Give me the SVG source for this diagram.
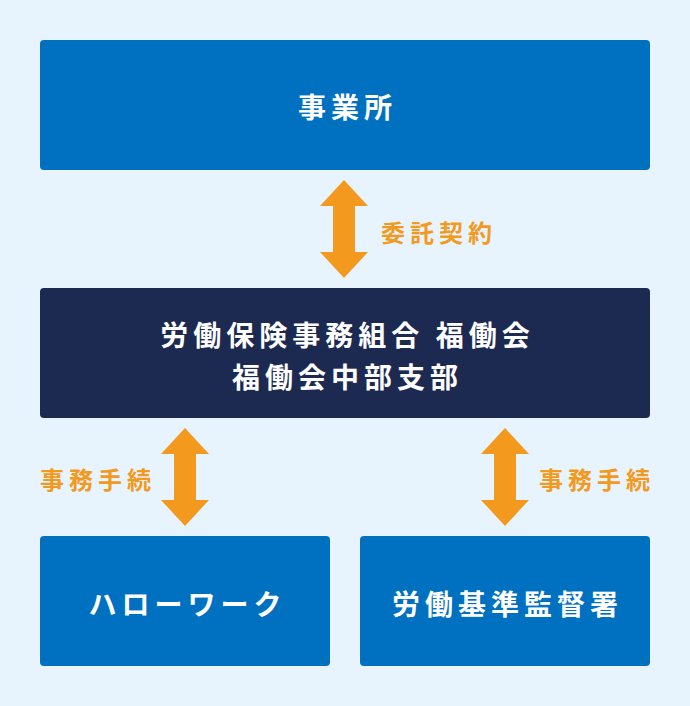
<svg xmlns="http://www.w3.org/2000/svg" width="690" height="706" viewBox="0 0 690 706">
<style>
.t{font-family:"Noto Sans CJK JP","Noto Sans CJK SC",sans-serif;font-weight:700;fill:#fff;font-size:28px;letter-spacing:5px;text-anchor:middle;dominant-baseline:central}
.l{font-family:"Noto Sans CJK JP","Noto Sans CJK SC",sans-serif;font-weight:700;fill:#f39a1e;font-size:24px;letter-spacing:5px;dominant-baseline:central}
.a{fill:#f39a1e}
</style>
<defs>
<path id="arr" d="M0,0 L24,26 L11,26 L11,72 L24,72 L0,98 L-24,72 L-11,72 L-11,26 L-24,26 Z"/>
</defs>
<rect width="690" height="706" fill="#e8f4fd"/>
<g id="jigyosho"><rect x="40" y="40" width="610" height="130" rx="4" fill="#0070c0"/><text class="t" x="347.5" y="106">事業所</text></g>
<g id="kumiai"><rect x="40" y="288" width="610" height="130" rx="4" fill="#1c2951"/><text class="t" x="347.5" y="334">労働保険事務組合 福働会</text><text class="t" x="347.5" y="376">福働会中部支部</text></g>
<g id="hellowork"><rect x="40" y="536" width="290" height="130" rx="4" fill="#0070c0"/><text class="t" x="187.5" y="603">ハローワーク</text></g>
<g id="kantoku"><rect x="360" y="536" width="290" height="130" rx="4" fill="#0070c0"/><text class="t" x="507.5" y="603">労働基準監督署</text></g>
<g id="connectors">
<use href="#arr" x="344" y="180" class="a"/>
<text class="l" x="381" y="231">委託契約</text>
<use href="#arr" x="185" y="428" class="a"/>
<text class="l" x="40" y="478">事務手続</text>
<use href="#arr" x="505" y="428" class="a"/>
<text class="l" x="539" y="478">事務手続</text>
</g>
</svg>
